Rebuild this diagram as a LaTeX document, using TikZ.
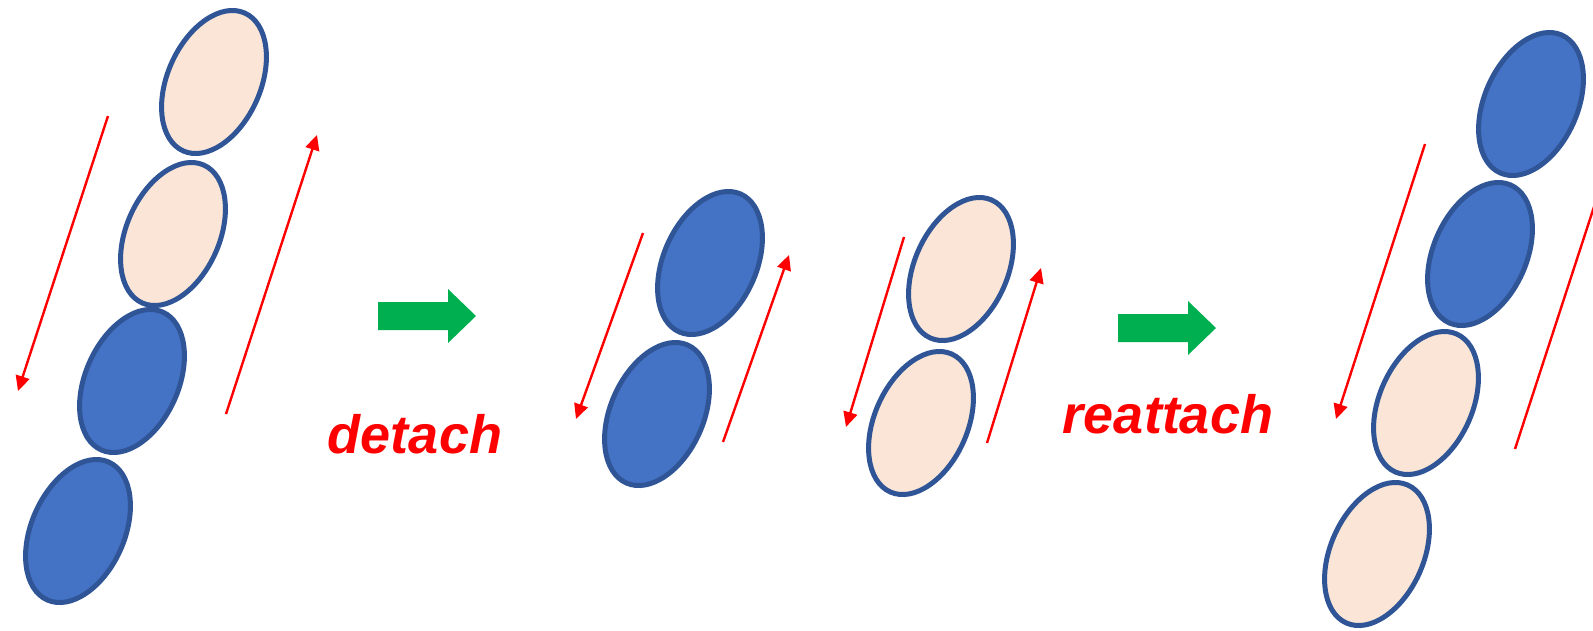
\documentclass[tikz,border=0pt]{standalone}
\usepackage{fontspec}
\setmainfont{Liberation Sans}
\usepackage{tikz}
\usetikzlibrary{arrows.meta, shapes.geometric}
\definecolor{beadblue}{HTML}{4472C4}
\definecolor{beadpeach}{HTML}{FBE5D6}
\definecolor{beadline}{HTML}{2F5597}
\definecolor{stepgreen}{HTML}{00B050}

\begin{document}
\begin{tikzpicture}[x=1pt,y=-1pt]
 \tikzstyle{bead}=[ellipse,draw=beadline,line width=5pt,
   minimum width=93pt,minimum height=151pt,inner sep=0pt,rotate=-24]
 \tikzstyle{slide}=[red,line width=2.4pt,-{Triangle[length=15pt,width=14pt]}]
 \tikzstyle{steplabel}=[red,anchor=base,inner sep=0pt,
   font=\fontsize{54}{60}\selectfont\bfseries\itshape]
 \tikzstyle{bigarrow}=[fill=stepgreen]
 \clip (0,0) rectangle (1593,630);
 % chain before
 \node (a1) [bead,fill=beadpeach] at (214,82) {};
 \node (a2) [bead,fill=beadpeach] at (173,234) {};
 \node (a3) [bead,fill=beadblue] at (132,381) {};
 \node (a4) [bead,fill=beadblue] at (78,531) {};
 \coordinate (a-down-s) at (108,116);
 \coordinate (a-down-e) at (18,391);
 \coordinate (a-up-s) at (226,414);
 \coordinate (a-up-e) at (317,135);
 \draw[slide] (a-down-s) -- (a-down-e);
 \draw[slide] (a-up-s) -- (a-up-e);
 % detach
 \coordinate (go1) at (476,316);
 \fill[bigarrow] (go1) -- ++(-28,-27) -- ++(0,13) -- ++(-70,0) -- ++(0,28)
   -- ++(70,0) -- ++(0,13) -- cycle;
 \node (detach) [steplabel] at (415,453) {detach};
 % blue pair
 \node (b1) [bead,fill=beadblue] at (710,263) {};
 \node (b2) [bead,fill=beadblue] at (657,414) {};
 \coordinate (b-down-s) at (643,233);
 \coordinate (b-down-e) at (576,419);
 \coordinate (b-up-s) at (723,442);
 \coordinate (b-up-e) at (789,255);
 \draw[slide] (b-down-s) -- (b-down-e);
 \draw[slide] (b-up-s) -- (b-up-e);
 % peach pair
 \node (c1) [bead,fill=beadpeach] at (961,269) {};
 \node (c2) [bead,fill=beadpeach] at (921,423) {};
 \coordinate (c-down-s) at (904,237);
 \coordinate (c-down-e) at (846,427);
 \coordinate (c-up-s) at (987,443);
 \coordinate (c-up-e) at (1041,268);
 \draw[slide] (c-down-s) -- (c-down-e);
 \draw[slide] (c-up-s) -- (c-up-e);
 % reattach
 \coordinate (go2) at (1216,328);
 \fill[bigarrow] (go2) -- ++(-28,-27) -- ++(0,13) -- ++(-70,0) -- ++(0,28)
   -- ++(70,0) -- ++(0,13) -- cycle;
 \node (reattach) [steplabel] at (1168,433) {reattach};
 % chain after
 \node (d1) [bead,fill=beadblue] at (1531,104) {};
 \node (d2) [bead,fill=beadblue] at (1480,254) {};
 \node (d3) [bead,fill=beadpeach] at (1426,403) {};
 \node (d4) [bead,fill=beadpeach] at (1377,554) {};
 \coordinate (d-down-s) at (1425,144);
 \coordinate (d-down-e) at (1336,419);
 \coordinate (d-up-s) at (1515,449);
 \coordinate (d-up-e) at (1606,170);
 \draw[slide] (d-down-s) -- (d-down-e);
 \draw[slide] (d-up-s) -- (d-up-e);
\end{tikzpicture}
\end{document}
